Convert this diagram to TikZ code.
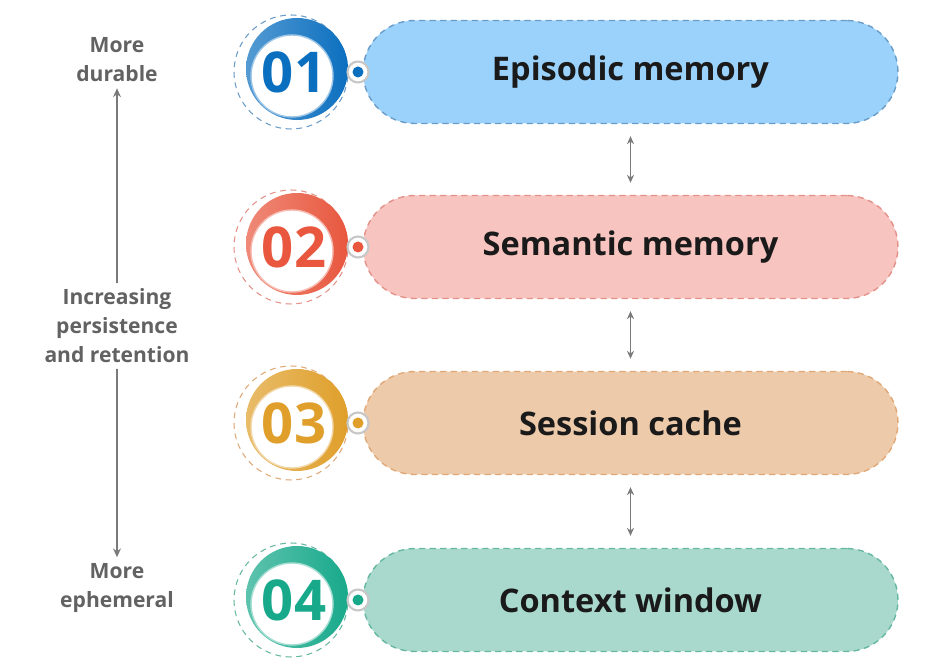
\documentclass[tikz,border=0pt]{standalone}
\usepackage{fontspec}
\setmainfont{Open Sans}
\usetikzlibrary{arrows.meta}
\definecolor{figink}{HTML}{1A1A1A}
\definecolor{figsub}{HTML}{626262}
\definecolor{epiink}{HTML}{0B6FBF}
\definecolor{epifill}{HTML}{9AD2FB}
\definecolor{epiedge}{HTML}{6A9CC8}
\definecolor{semink}{HTML}{E8573E}
\definecolor{semfill}{HTML}{F8C4BF}
\definecolor{semedge}{HTML}{E39189}
\definecolor{sesink}{HTML}{DF9F2A}
\definecolor{sesfill}{HTML}{EDCAA9}
\definecolor{sesedge}{HTML}{E0A877}
\definecolor{ctxink}{HTML}{18A98B}
\definecolor{ctxfill}{HTML}{A8D9CC}
\definecolor{ctxedge}{HTML}{66B7A2}

\begin{document}
\begin{tikzpicture}[x=0.02cm, y=0.02cm, line cap=round, line join=round,
  pill/.style={draw, dashed, line width=0.8pt, rounded corners=1.03cm,
    minimum width=10.7cm, minimum height=2.06cm, inner sep=0pt,
    text=figink, font=\fontsize{18.5}{22}\selectfont\bfseries},
  badgenum/.style={inner sep=0pt, font=\fontsize{32}{36}\selectfont\bfseries},
  axislabel/.style={text=figsub, align=center, font=\fontsize{12}{16.5}\selectfont\bfseries},
  axisline/.style={figsub!85, line width=0.8pt, -{Stealth[length=5pt, width=4.5pt]}},
  linkarrow/.style={figsub!85, line width=0.8pt,
    {Stealth[length=4.5pt, width=4pt]}-{Stealth[length=4.5pt, width=4pt]},
    shorten >=0.24cm, shorten <=0.24cm}]
  \useasboundingbox (0,0) rectangle (926,665);

  % 四层记忆：每行给出中心纵坐标、编号、名称和三种颜色
  \foreach \yc/\num/\txt/\ink/\bg/\edge [count=\i] in {
      593/01/Episodic memory/epiink/epifill/epiedge,
      418/02/Semantic memory/semink/semfill/semedge,
      242/03/Session cache/sesink/sesfill/sesedge,
      65/04/Context window/ctxink/ctxfill/ctxedge} {
    % 外圈虚线
    \draw[\edge, dashed, line width=0.6pt] (291,\yc) circle (57);
    % 彩色月牙：先铺彩色圆，再压白圆
    \shade[left color=\ink!70, right color=\ink] (297,\yc+3) circle (51);
    \fill[white] (292,\yc-4) circle (41);
    \draw[\ink!40, line width=0.8pt] (292,\yc-4) circle (41);
    \node[badgenum, text=\ink] (num\i) at (294,\yc) {\num};
    % 圆角条
    \node[pill, fill=\bg, draw=\edge] (pill\i) at (630.5,\yc) {\txt};
    % 接头小圆点（压在条的左端）
    \node[circle, fill=white, draw=black!22, line width=1.2pt,
      minimum size=0.42cm, inner sep=0pt] (dot\i) at (358,\yc) {};
    \fill[\ink] (dot\i) circle (5.5);
  }

  % 相邻两层之间的双向箭头
  \foreach \i [evaluate=\i as \j using int(\i+1)] in {1,2,3}
    \draw[linkarrow] (pill\i.south) -- (pill\j.north);

  % 左侧说明轴
  \node[axislabel] (durable) at (117,605) {More\\durable};
  \node[axislabel] (persist) at (117,339) {Increasing\\persistence\\and retention};
  \node[axislabel] (ephemeral) at (117,77) {More\\ephemeral};
  \draw[axisline] (persist.north) -- (durable.south);
  \draw[axisline] (persist.south) -- (ephemeral.north);
\end{tikzpicture}
\end{document}
